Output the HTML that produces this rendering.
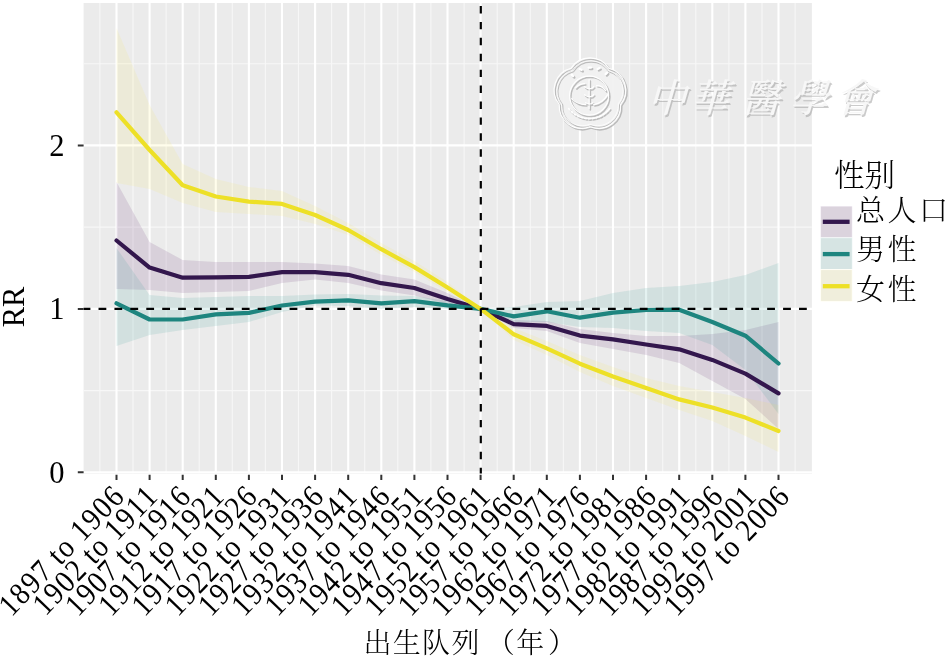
<!DOCTYPE html><html><head><meta charset="utf-8"><title>RR by birth cohort</title><style>html,body{margin:0;padding:0;background:#fff;width:945px;height:665px;overflow:hidden}svg{display:block}</style></head><body>
<svg width="945" height="665" viewBox="0 0 945 665">
<defs><clipPath id="pc"><rect x="83.6" y="3.0" width="728.3" height="470.6"/></clipPath></defs>
<rect x="83.6" y="3.0" width="728.3" height="470.6" fill="#EBEBEB"/>
<path d="M99.9 3.0V473.6M133.0 3.0V473.6M166.1 3.0V473.6M199.2 3.0V473.6M232.3 3.0V473.6M265.4 3.0V473.6M298.5 3.0V473.6M331.6 3.0V473.6M364.7 3.0V473.6M397.8 3.0V473.6M430.9 3.0V473.6M464.1 3.0V473.6M497.2 3.0V473.6M530.3 3.0V473.6M563.4 3.0V473.6M596.5 3.0V473.6M629.6 3.0V473.6M662.7 3.0V473.6M695.8 3.0V473.6M728.9 3.0V473.6M762.0 3.0V473.6M795.1 3.0V473.6M83.6 390.6H811.9M83.6 227.1H811.9M83.6 63.7H811.9" stroke="#F7F7F7" stroke-width="1.1" fill="none"/>
<path d="M116.5 3.0V473.6M149.6 3.0V473.6M182.7 3.0V473.6M215.8 3.0V473.6M248.9 3.0V473.6M282.0 3.0V473.6M315.1 3.0V473.6M348.2 3.0V473.6M381.3 3.0V473.6M414.4 3.0V473.6M447.5 3.0V473.6M480.6 3.0V473.6M513.7 3.0V473.6M546.8 3.0V473.6M579.9 3.0V473.6M613.0 3.0V473.6M646.1 3.0V473.6M679.2 3.0V473.6M712.3 3.0V473.6M745.4 3.0V473.6M778.5 3.0V473.6M83.6 472.3H811.9M83.6 308.9H811.9M83.6 145.4H811.9" stroke="#FFFFFF" stroke-width="2.1" fill="none"/>
<g clip-path="url(#pc)">
<polygon points="116.5,182.0 149.6,242.0 182.7,260.0 215.8,262.0 248.9,262.0 282.0,262.0 315.1,263.4 348.2,266.0 381.3,274.4 414.4,279.5 447.5,293.0 480.6,308.9 513.7,320.0 546.8,321.0 579.9,329.0 613.0,333.0 646.1,336.0 679.2,336.0 712.3,334.0 745.4,330.0 778.5,322.0 778.5,429.0 745.4,399.0 712.3,381.0 679.2,363.0 646.1,355.0 613.0,349.0 579.9,343.0 546.8,331.0 513.7,328.0 480.6,308.9 447.5,304.0 414.4,295.5 381.3,290.5 348.2,283.0 315.1,279.5 282.0,283.0 248.9,291.0 215.8,292.0 182.7,293.0 149.6,290.0 116.5,289.0" fill="#440154" fill-opacity="0.115"/>
<polygon points="116.5,248.0 149.6,295.0 182.7,298.0 215.8,297.0 248.9,296.0 282.0,296.0 315.1,294.5 348.2,294.0 381.3,295.5 414.4,296.0 447.5,301.0 480.6,308.9 513.7,307.0 546.8,302.0 579.9,301.0 613.0,293.0 646.1,288.0 679.2,286.0 712.3,282.0 745.4,275.0 778.5,263.0 778.5,414.0 745.4,370.0 712.3,345.0 679.2,333.0 646.1,331.0 613.0,328.0 579.9,327.0 546.8,322.0 513.7,322.0 480.6,308.9 447.5,309.0 414.4,307.0 381.3,309.0 348.2,306.0 315.1,305.6 282.0,312.0 248.9,322.0 215.8,326.0 182.7,330.0 149.6,335.0 116.5,346.0" fill="#21908C" fill-opacity="0.12"/>
<polygon points="116.5,28.0 149.6,105.0 182.7,164.0 215.8,179.0 248.9,187.0 282.0,191.0 315.1,206.0 348.2,223.0 381.3,243.0 414.4,261.0 447.5,282.0 480.6,308.9 513.7,328.0 546.8,341.0 579.9,355.0 613.0,367.0 646.1,378.0 679.2,386.0 712.3,392.0 745.4,398.0 778.5,405.0 778.5,452.0 745.4,436.0 712.3,421.0 679.2,410.0 646.1,398.0 613.0,386.0 579.9,372.0 546.8,355.0 513.7,340.0 480.6,308.9 447.5,292.0 414.4,272.0 381.3,255.0 348.2,235.0 315.1,224.0 282.0,216.0 248.9,214.0 215.8,212.0 182.7,203.0 149.6,189.0 116.5,183.0" fill="#FDE725" fill-opacity="0.09"/>
<polyline points="116.5,240.5 149.6,267.6 182.7,277.7 215.8,277.3 248.9,276.8 282.0,272.2 315.1,272.2 348.2,274.8 381.3,283.2 414.4,288.0 447.5,299.0 480.6,308.9 513.7,324.1 546.8,325.9 579.9,335.6 613.0,339.4 646.1,344.5 679.2,349.3 712.3,359.9 745.4,373.6 778.5,393.4" fill="none" stroke="#33174D" stroke-width="4.2" stroke-linejoin="round" stroke-linecap="round"/>
<polyline points="116.5,303.3 149.6,319.5 182.7,319.5 215.8,314.4 248.9,312.9 282.0,305.5 315.1,301.6 348.2,300.3 381.3,303.4 414.4,301.1 447.5,305.4 480.6,308.9 513.7,316.4 546.8,311.3 579.9,317.7 613.0,312.6 646.1,310.0 679.2,309.7 712.3,322.0 745.4,335.7 778.5,363.5" fill="none" stroke="#1E857F" stroke-width="4.2" stroke-linejoin="round" stroke-linecap="round"/>
<polyline points="116.5,112.3 149.6,150.0 182.7,185.3 215.8,196.5 248.9,201.6 282.0,203.9 315.1,215.0 348.2,230.0 381.3,249.2 414.4,267.1 447.5,287.5 480.6,308.9 513.7,334.3 546.8,348.4 579.9,363.7 613.0,376.5 646.1,388.0 679.2,399.4 712.3,407.5 745.4,417.6 778.5,431.0" fill="none" stroke="#EDE027" stroke-width="4.2" stroke-linejoin="round" stroke-linecap="round"/>
<path d="M82.6 308.9H811.9" stroke="#000" stroke-width="2.2" stroke-dasharray="7.8 8.12" fill="none"/>
<path d="M480.8 6V476" stroke="#000" stroke-width="2.2" stroke-dasharray="7.4 8.52" fill="none"/>
</g>
<path d="M571.33 68.70A22.5 22.5 0 0 1 609.27 68.70A22.5 22.5 0 0 1 620.99 104.77A22.5 22.5 0 0 1 590.30 127.07A22.5 22.5 0 0 1 559.61 104.77A22.5 22.5 0 0 1 571.33 68.70Z" fill="#F1F1F1" fill-opacity="0.92"/>
<g fill="none" stroke-linejoin="round" stroke-linecap="round">
<g transform="translate(0.9,1.1)" stroke="#A9A9A9" stroke-opacity="0.75" stroke-width="1.5">
<path d="M571.33 68.70A22.5 22.5 0 0 1 609.27 68.70A22.5 22.5 0 0 1 620.99 104.77A22.5 22.5 0 0 1 590.30 127.07A22.5 22.5 0 0 1 559.61 104.77A22.5 22.5 0 0 1 571.33 68.70Z"/>
<path d="M572.75 70.64A20.8 20.8 0 0 1 607.85 70.64A20.8 20.8 0 0 1 618.70 104.03A20.8 20.8 0 0 1 590.30 124.66A20.8 20.8 0 0 1 561.90 104.03A20.8 20.8 0 0 1 572.75 70.64Z" stroke-width="1.05"/>
<circle cx="589.5" cy="96" r="19.5"/>
<path d="M572 99c4 4 9 6 14 6M594 105c6-1 11-5 14-10M576 88c3-3 6-4 9-4M597 86c4 0 7 2 9 5M589.5 80v29M585 87c3 3 7 3 9 0M585 95c3 3 7 3 9 0M586 103c3 2 5 2 7 0"/>
<path d="M572 75l1.5 1.5M580 69.5l2 1M589 68h2.5M598 69.5l2 -1M606 74.5l1.5 -1.5" stroke-width="2.2"/>
<path d="M569 109a26 26 0 0 0 41 0" stroke-dasharray="2.2 1.6" stroke-width="1.6"/>
</g>
<g transform="translate(-0.4,-0.4)" stroke="#FFFFFF" stroke-opacity="1" stroke-width="1.1">
<path d="M571.33 68.70A22.5 22.5 0 0 1 609.27 68.70A22.5 22.5 0 0 1 620.99 104.77A22.5 22.5 0 0 1 590.30 127.07A22.5 22.5 0 0 1 559.61 104.77A22.5 22.5 0 0 1 571.33 68.70Z"/>
<path d="M572.75 70.64A20.8 20.8 0 0 1 607.85 70.64A20.8 20.8 0 0 1 618.70 104.03A20.8 20.8 0 0 1 590.30 124.66A20.8 20.8 0 0 1 561.90 104.03A20.8 20.8 0 0 1 572.75 70.64Z" stroke-width="0.77"/>
<circle cx="589.5" cy="96" r="19.5"/>
<path d="M572 99c4 4 9 6 14 6M594 105c6-1 11-5 14-10M576 88c3-3 6-4 9-4M597 86c4 0 7 2 9 5M589.5 80v29M585 87c3 3 7 3 9 0M585 95c3 3 7 3 9 0M586 103c3 2 5 2 7 0"/>
<path d="M572 75l1.5 1.5M580 69.5l2 1M589 68h2.5M598 69.5l2 -1M606 74.5l1.5 -1.5" stroke-width="2.2"/>
<path d="M569 109a26 26 0 0 0 41 0" stroke-dasharray="2.2 1.6" stroke-width="1.6"/>
</g>
</g>
<g fill="#A0A0A0" fill-opacity="0.55" transform="translate(1.3,1.7)" style="font-family:'Liberation Serif','Noto Serif CJK TC',serif;font-weight:500" font-size="39">
<text transform="translate(647,112) skewX(-16)">中</text>
<text transform="translate(690,112) skewX(-16)">華</text>
<text transform="translate(741,112) skewX(-16)">醫</text>
<text transform="translate(789,112) skewX(-16)">學</text>
<text transform="translate(835,112) skewX(-16)">會</text>
</g>
<g fill="#F7F7F7" fill-opacity="1" transform="translate(0,0)" style="font-family:'Liberation Serif','Noto Serif CJK TC',serif;font-weight:500" font-size="39">
<text transform="translate(647,112) skewX(-16)">中</text>
<text transform="translate(690,112) skewX(-16)">華</text>
<text transform="translate(741,112) skewX(-16)">醫</text>
<text transform="translate(789,112) skewX(-16)">學</text>
<text transform="translate(835,112) skewX(-16)">會</text>
</g>
<path d="M77.8 472.3H83.6M77.8 308.9H83.6M77.8 145.4H83.6M116.5 474.8V480M149.6 474.8V480M182.7 474.8V480M215.8 474.8V480M248.9 474.8V480M282.0 474.8V480M315.1 474.8V480M348.2 474.8V480M381.3 474.8V480M414.4 474.8V480M447.5 474.8V480M480.6 474.8V480M513.7 474.8V480M546.8 474.8V480M579.9 474.8V480M613.0 474.8V480M646.1 474.8V480M679.2 474.8V480M712.3 474.8V480M745.4 474.8V480M778.5 474.8V480" stroke="#333" stroke-width="2" fill="none"/>
<text x="64.6" y="482.8" text-anchor="end" font-size="30.5" style="font-family:'Liberation Serif',serif" fill="#000">0</text>
<text x="64.6" y="319.4" text-anchor="end" font-size="30.5" style="font-family:'Liberation Serif',serif" fill="#000">1</text>
<text x="64.6" y="155.9" text-anchor="end" font-size="30.5" style="font-family:'Liberation Serif',serif" fill="#000">2</text>
<text transform="translate(23.6,306.9) rotate(-90)" text-anchor="middle" font-size="30.5" style="font-family:'Liberation Serif',serif" fill="#000">RR</text>
<text transform="translate(126.55,497.0) rotate(-46.3) scale(0.9,1)" text-anchor="end" font-size="31.5" letter-spacing="1.75" word-spacing="-1.0" style="font-family:'Liberation Serif',serif" fill="#000">1897 to 1906</text>
<text transform="translate(159.82,497.0) rotate(-46.3) scale(0.9,1)" text-anchor="end" font-size="31.5" letter-spacing="1.75" word-spacing="-1.0" style="font-family:'Liberation Serif',serif" fill="#000">1902 to 1911</text>
<text transform="translate(193.09,497.0) rotate(-46.3) scale(0.9,1)" text-anchor="end" font-size="31.5" letter-spacing="1.75" word-spacing="-1.0" style="font-family:'Liberation Serif',serif" fill="#000">1907 to 1916</text>
<text transform="translate(226.36,497.0) rotate(-46.3) scale(0.9,1)" text-anchor="end" font-size="31.5" letter-spacing="1.75" word-spacing="-1.0" style="font-family:'Liberation Serif',serif" fill="#000">1912 to 1921</text>
<text transform="translate(259.63,497.0) rotate(-46.3) scale(0.9,1)" text-anchor="end" font-size="31.5" letter-spacing="1.75" word-spacing="-1.0" style="font-family:'Liberation Serif',serif" fill="#000">1917 to 1926</text>
<text transform="translate(292.90,497.0) rotate(-46.3) scale(0.9,1)" text-anchor="end" font-size="31.5" letter-spacing="1.75" word-spacing="-1.0" style="font-family:'Liberation Serif',serif" fill="#000">1922 to 1931</text>
<text transform="translate(326.17,497.0) rotate(-46.3) scale(0.9,1)" text-anchor="end" font-size="31.5" letter-spacing="1.75" word-spacing="-1.0" style="font-family:'Liberation Serif',serif" fill="#000">1927 to 1936</text>
<text transform="translate(359.44,497.0) rotate(-46.3) scale(0.9,1)" text-anchor="end" font-size="31.5" letter-spacing="1.75" word-spacing="-1.0" style="font-family:'Liberation Serif',serif" fill="#000">1932 to 1941</text>
<text transform="translate(392.71,497.0) rotate(-46.3) scale(0.9,1)" text-anchor="end" font-size="31.5" letter-spacing="1.75" word-spacing="-1.0" style="font-family:'Liberation Serif',serif" fill="#000">1937 to 1946</text>
<text transform="translate(425.98,497.0) rotate(-46.3) scale(0.9,1)" text-anchor="end" font-size="31.5" letter-spacing="1.75" word-spacing="-1.0" style="font-family:'Liberation Serif',serif" fill="#000">1942 to 1951</text>
<text transform="translate(459.25,497.0) rotate(-46.3) scale(0.9,1)" text-anchor="end" font-size="31.5" letter-spacing="1.75" word-spacing="-1.0" style="font-family:'Liberation Serif',serif" fill="#000">1947 to 1956</text>
<text transform="translate(492.52,497.0) rotate(-46.3) scale(0.9,1)" text-anchor="end" font-size="31.5" letter-spacing="1.75" word-spacing="-1.0" style="font-family:'Liberation Serif',serif" fill="#000">1952 to 1961</text>
<text transform="translate(525.79,497.0) rotate(-46.3) scale(0.9,1)" text-anchor="end" font-size="31.5" letter-spacing="1.75" word-spacing="-1.0" style="font-family:'Liberation Serif',serif" fill="#000">1957 to 1966</text>
<text transform="translate(559.06,497.0) rotate(-46.3) scale(0.9,1)" text-anchor="end" font-size="31.5" letter-spacing="1.75" word-spacing="-1.0" style="font-family:'Liberation Serif',serif" fill="#000">1962 to 1971</text>
<text transform="translate(592.33,497.0) rotate(-46.3) scale(0.9,1)" text-anchor="end" font-size="31.5" letter-spacing="1.75" word-spacing="-1.0" style="font-family:'Liberation Serif',serif" fill="#000">1967 to 1976</text>
<text transform="translate(625.60,497.0) rotate(-46.3) scale(0.9,1)" text-anchor="end" font-size="31.5" letter-spacing="1.75" word-spacing="-1.0" style="font-family:'Liberation Serif',serif" fill="#000">1972 to 1981</text>
<text transform="translate(658.87,497.0) rotate(-46.3) scale(0.9,1)" text-anchor="end" font-size="31.5" letter-spacing="1.75" word-spacing="-1.0" style="font-family:'Liberation Serif',serif" fill="#000">1977 to 1986</text>
<text transform="translate(692.14,497.0) rotate(-46.3) scale(0.9,1)" text-anchor="end" font-size="31.5" letter-spacing="1.75" word-spacing="-1.0" style="font-family:'Liberation Serif',serif" fill="#000">1982 to 1991</text>
<text transform="translate(725.41,497.0) rotate(-46.3) scale(0.9,1)" text-anchor="end" font-size="31.5" letter-spacing="1.75" word-spacing="-1.0" style="font-family:'Liberation Serif',serif" fill="#000">1987 to 1996</text>
<text transform="translate(758.68,497.0) rotate(-46.3) scale(0.9,1)" text-anchor="end" font-size="31.5" letter-spacing="1.75" word-spacing="-1.0" style="font-family:'Liberation Serif',serif" fill="#000">1992 to 2001</text>
<text transform="translate(791.95,497.0) rotate(-46.3) scale(0.9,1)" text-anchor="end" font-size="31.5" letter-spacing="1.75" word-spacing="-1.0" style="font-family:'Liberation Serif',serif" fill="#000">1997 to 2006</text>
<text x="363.4 392.7 422.1 451.5 486.8 516.2 547.9" y="652.8" font-size="28" style="font-family:'Liberation Serif','Noto Serif CJK SC',serif;font-weight:300" fill="#000">出生队列（年）</text>
<text x="834" y="185.6" font-size="30.6" style="font-family:'Liberation Serif','Noto Serif CJK SC',serif;font-weight:300" fill="#000">性别</text>
<rect x="820.6" y="206.2" width="31.6" height="31.8" fill="#EFEFEF" stroke="#FFFFFF" stroke-width="1"/>
<rect x="820.6" y="206.2" width="31.6" height="31.8" fill="#440154" fill-opacity="0.115"/>
<path d="M822.8 221.8H849.6" stroke="#33174D" stroke-width="4.3"/>
<rect x="820.6" y="237.8" width="31.6" height="31.8" fill="#EFEFEF" stroke="#FFFFFF" stroke-width="1"/>
<rect x="820.6" y="237.8" width="31.6" height="31.8" fill="#21908C" fill-opacity="0.12"/>
<path d="M822.8 254.1H849.6" stroke="#1E857F" stroke-width="4.3"/>
<rect x="820.6" y="269.6" width="31.6" height="31.8" fill="#EFEFEF" stroke="#FFFFFF" stroke-width="1"/>
<rect x="820.6" y="269.6" width="31.6" height="31.8" fill="#FDE725" fill-opacity="0.09"/>
<path d="M822.8 286.2H849.6" stroke="#EDE027" stroke-width="4.3"/>
<text x="856" y="220.5" font-size="29" letter-spacing="2.5" style="font-family:'Liberation Serif','Noto Serif CJK SC',serif;font-weight:300" fill="#000">总人口</text>
<text x="856" y="260" font-size="29" letter-spacing="2.5" style="font-family:'Liberation Serif','Noto Serif CJK SC',serif;font-weight:300" fill="#000">男性</text>
<text x="856" y="300" font-size="29" letter-spacing="2.5" style="font-family:'Liberation Serif','Noto Serif CJK SC',serif;font-weight:300" fill="#000">女性</text>
</svg></body></html>
